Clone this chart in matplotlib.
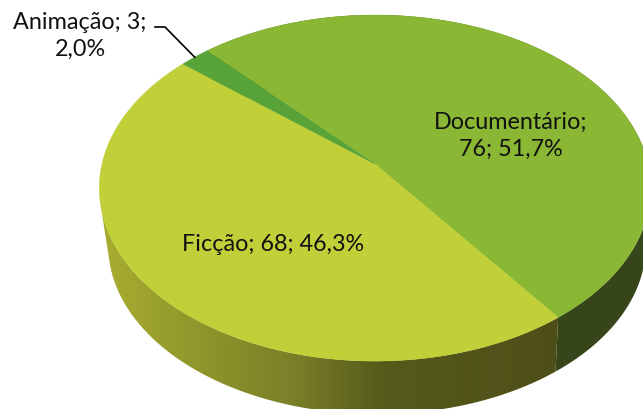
#!/usr/bin/env python3
# -*- coding: utf-8 -*-
import numpy as np
import matplotlib
matplotlib.use('Agg')
import matplotlib.pyplot as plt
from matplotlib.colors import LinearSegmentedColormap
from matplotlib.path import Path
from matplotlib.patches import PathPatch

categories = ['Documentário', 'Ficção', 'Animação']
values = [76, 68, 3]
labels = ['Documentário;\n76; 51,7%', 'Ficção; 68; 46,3%', 'Animação; 3;\n2,0%']

top_colors = ['#8ab835', '#c1d038', '#57a338']
label_pos = [(511, 136), (273, 245), (80, 35.5)]

W, H = 643, 410
start = 132.7   # angle on the disc where the first slice begins, clockwise

# perspective of the disc, in pixels of the picture
cx, cy = 375, 165
a, c, k = 273, 169.7, 0.139
depth = 58
shrink = 0.975
shift = 2

plt.rcParams['font.family'] = ['Lato', 'DejaVu Sans']

fig = plt.figure(figsize=(W/100, H/100), dpi=100)
ax = fig.add_axes([0, 0, 1, 1])


def project(deg, scale=1., dy=0., dx=0.):
    t = np.radians(deg)
    x, y = np.cos(t), np.sin(t)
    return cx + dx + scale*a*x/(1 + k*y), cy + dy - scale*c*y/(1 + k*y)


def side_polygon(t0, t1):
    # top rim from t0 to t1, back along the lower rim
    x1, y1 = project(np.linspace(t0, t1, 200))
    x2, y2 = project(np.linspace(t1, t0, 200), shrink, depth, shift)
    return np.r_[x1, x2], np.r_[y1, y2]


# slice limits from the values
total = float(sum(values))
edges = start - np.cumsum([0] + values)/total*360.

# side of the pie: Documentário is flat dark, Ficção has a gradient along x
sx, sy = side_polygon(edges[0], edges[1])
ax.fill(sx, sy, color='#36461a', lw=0)

# stop at the left silhouette, the straight edge joins both rims there
sx, sy = side_polygon(edges[1], -167.)
patch = PathPatch(Path(np.c_[sx, sy]), transform=ax.transData, fc='none', ec='none')
ax.add_patch(patch)
cmap = LinearSegmentedColormap.from_list('side', [(0, '#a9ae30'), (0.22, '#8f962b'),
                                                  (0.42, '#7a8028'), (0.62, '#565a1b'),
                                                  (1, '#4e4f18')])
grad = np.linspace(0, 1, 256).reshape(1, -1)
im = ax.imshow(grad, cmap=cmap, extent=[99, 558, H, 0], aspect='auto', zorder=1)
im.set_clip_path(patch)

# top of the pie
for i in range(len(values)):
    t = np.linspace(edges[i], edges[i+1], 300)
    x, y = project(t)
    ax.fill(np.r_[cx, x], np.r_[cy, y], color=top_colors[i], lw=0.3, zorder=2)

# labels
for lab, (lx, ly) in zip(labels, label_pos):
    ax.text(lx, ly, lab, ha='center', va='center', fontsize=16.8, color='#111111',
            linespacing=1.35, zorder=4)

# leader of the small slice
mx, my = project((edges[2] + edges[3])/2.)
ax.plot([155, 165, mx], [28, 28, my], color='black', lw=1.2, zorder=3)

ax.set_xlim(0, W)
ax.set_ylim(H, 0)
ax.axis('off')
fig.savefig('out.png', dpi=100)
